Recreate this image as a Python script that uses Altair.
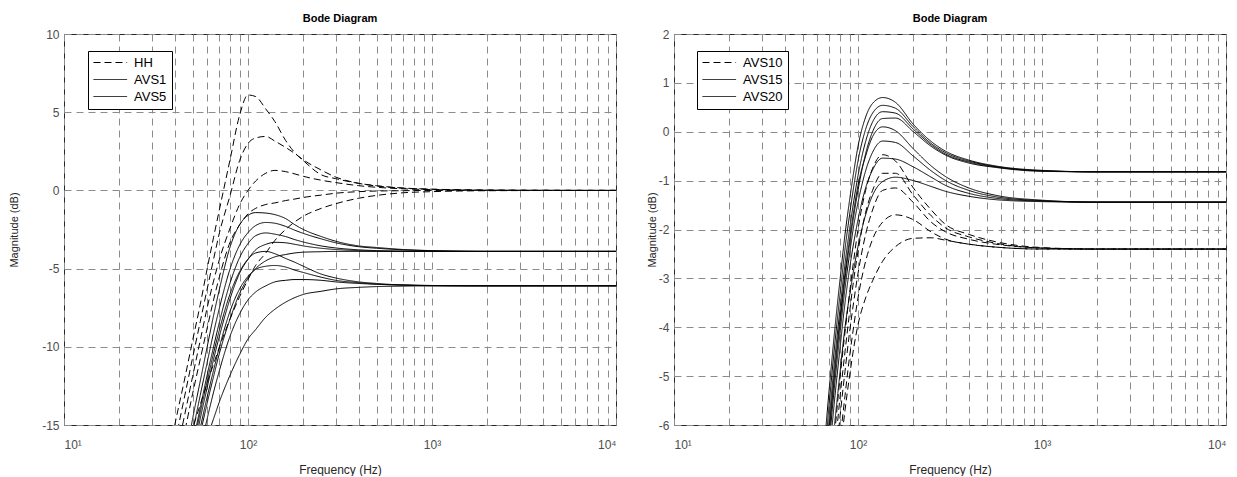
import altair as alt
import pandas as pd

# ---------------- left panel data (frequency in Hz, magnitude in dB) ----------------
F_L = [35, 40, 45, 50, 55, 60, 65, 70, 80, 90, 100, 110, 125, 140, 160, 180, 200, 250, 300, 400, 500, 700, 1000, 2000, 10000]

HH1 = [-18.5, -15.0, -12.2, -9.6, -7.3, -5.0, -3.0, -1.2, 2.0, 4.8, 6.1, 6.0, 5.2, 4.4, 3.2, 2.4, 1.9, 1.0, 0.75, 0.45, 0.3, 0.15, 0.08, 0.02, 0.0]
HH2 = [-19.5, -16.2, -13.3, -10.7, -8.4, -6.3, -4.4, -2.7, -0.3, 1.9, 3.0, 3.35, 3.45, 3.15, 2.75, 2.35, 1.95, 1.3, 0.85, 0.45, 0.28, 0.14, 0.07, 0.02, 0.0]
HH3 = [-20.5, -17.3, -14.5, -11.9, -9.6, -7.5, -5.8, -4.4, -2.4, -0.9, 0.0, 0.6, 1.1, 1.28, 1.2, 1.05, 0.9, 0.65, 0.5, 0.3, 0.2, 0.1, 0.05, 0.01, 0.0]
HH4 = [-21.5, -18.5, -15.6, -13.0, -10.8, -8.8, -7.0, -5.5, -3.3, -2.2, -1.5, -1.15, -0.9, -0.8, -0.65, -0.55, -0.45, -0.3, -0.18, -0.08, -0.04, -0.02, 0.0, 0.0, 0.0]
HH5 = [-21.0, -18.8, -16.9, -15.2, -13.7, -12.3, -11.1, -10.0, -8.2, -6.8, -5.7, -4.8, -4.0, -3.2, -2.5, -2.0, -1.65, -1.15, -0.85, -0.5, -0.32, -0.15, -0.08, -0.02, 0.0]

AVS1_A = [-24.0, -20.5, -17.5, -14.6, -12.2, -10.0, -8.0, -6.3, -3.6, -2.2, -1.6, -1.42, -1.45, -1.55, -1.8, -2.2, -2.5, -2.95, -3.25, -3.55, -3.65, -3.78, -3.85, -3.9, -3.9]
AVS1_B = [-25.0, -21.5, -18.5, -15.5, -13.1, -11.0, -9.1, -7.5, -5.0, -3.5, -2.7, -2.25, -2.05, -2.1, -2.3, -2.55, -2.75, -3.1, -3.35, -3.6, -3.7, -3.8, -3.86, -3.9, -3.9]
AVS1_C = [-26.0, -22.3, -19.3, -16.3, -13.9, -11.8, -10.0, -8.4, -5.9, -4.3, -3.4, -2.9, -2.72, -2.8, -2.95, -3.15, -3.3, -3.55, -3.68, -3.8, -3.85, -3.88, -3.9, -3.9, -3.9]
AVS1_D = [-26.5, -23.0, -20.0, -17.0, -14.6, -12.6, -10.8, -9.3, -6.9, -5.3, -4.4, -3.8, -3.45, -3.32, -3.35, -3.45, -3.55, -3.7, -3.78, -3.85, -3.88, -3.9, -3.9, -3.9, -3.9]
AVS1_E = [-27.5, -24.0, -21.0, -18.0, -15.6, -13.6, -11.9, -10.4, -8.2, -6.6, -5.6, -5.0, -4.5, -4.25, -4.1, -4.0, -3.95, -3.92, -3.9, -3.9, -3.9, -3.9, -3.9, -3.9, -3.9]

AVS5_A = [-26.0, -22.5, -19.5, -16.6, -14.2, -12.2, -10.4, -8.9, -6.6, -5.2, -4.4, -4.0, -3.9, -4.05, -4.35, -4.6, -4.85, -5.35, -5.6, -5.85, -5.95, -6.05, -6.08, -6.1, -6.1]
AVS5_B = [-27.0, -23.5, -20.5, -17.6, -15.2, -13.2, -11.5, -10.0, -7.7, -6.3, -5.5, -5.05, -4.85, -4.8, -4.9, -5.1, -5.25, -5.55, -5.75, -5.9, -6.0, -6.05, -6.08, -6.1, -6.1]
AVS5_C = [-28.5, -25.0, -22.0, -19.0, -16.6, -14.6, -12.9, -11.5, -9.3, -7.9, -7.0, -6.5, -6.1, -5.85, -5.75, -5.7, -5.7, -5.75, -5.85, -5.95, -6.0, -6.05, -6.1, -6.1, -6.1]
AVS5_D = [-24.5, -22.5, -20.5, -18.8, -17.2, -15.8, -14.6, -13.5, -11.8, -10.5, -9.5, -8.9, -8.1, -7.6, -7.15, -6.85, -6.65, -6.45, -6.3, -6.2, -6.15, -6.12, -6.1, -6.1, -6.1]

LEFT_GROUPS = ["HH", "AVS1", "AVS5"]
LEFT_CURVES = [
    ("HH1", "HH", HH1), ("HH2", "HH", HH2), ("HH3", "HH", HH3), ("HH4", "HH", HH4), ("HH5", "HH", HH5),
    ("A1a", "AVS1", AVS1_A), ("A1b", "AVS1", AVS1_B), ("A1c", "AVS1", AVS1_C), ("A1d", "AVS1", AVS1_D), ("A1e", "AVS1", AVS1_E),
    ("A5a", "AVS5", AVS5_A), ("A5b", "AVS5", AVS5_B), ("A5c", "AVS5", AVS5_C), ("A5d", "AVS5", AVS5_D),
]

# ---------------- right panel data ----------------
F_R = [60, 65, 70, 75, 80, 85, 90, 95, 100, 110, 120, 136, 160, 200, 250, 300, 400, 560, 1000, 2000, 10000]

AVS10_A = [-10.0, -8.6, -7.3, -6.1, -5.0, -4.1, -3.3, -2.6, -2.0, -1.2, -0.75, -0.47, -0.6, -1.15, -1.6, -1.9, -2.1, -2.25, -2.37, -2.4, -2.4]
AVS10_B = [-10.4, -9.0, -7.7, -6.5, -5.4, -4.5, -3.7, -3.0, -2.45, -1.65, -1.2, -0.85, -0.85, -1.3, -1.72, -1.97, -2.15, -2.28, -2.38, -2.4, -2.4]
AVS10_C = [-10.8, -9.4, -8.1, -6.9, -5.8, -4.9, -4.1, -3.45, -2.9, -2.1, -1.6, -1.2, -1.15, -1.45, -1.85, -2.05, -2.2, -2.3, -2.38, -2.4, -2.4]
AVS10_D = [-11.3, -9.9, -8.6, -7.4, -6.3, -5.4, -4.6, -3.95, -3.4, -2.65, -2.2, -1.85, -1.7, -1.8, -2.05, -2.2, -2.3, -2.36, -2.4, -2.4, -2.4]
AVS10_E = [-12.0, -10.6, -9.2, -7.8, -6.6, -5.7, -5.0, -4.4, -3.95, -3.4, -3.05, -2.65, -2.35, -2.18, -2.17, -2.22, -2.3, -2.36, -2.4, -2.4, -2.4]

AVS15_A = [-8.8, -7.4, -6.0, -4.8, -3.8, -2.9, -2.2, -1.6, -1.1, -0.5, -0.1, 0.10, 0.02, -0.35, -0.70, -0.92, -1.15, -1.30, -1.40, -1.44, -1.44]
AVS15_B = [-9.1, -7.7, -6.3, -5.1, -4.1, -3.2, -2.5, -1.9, -1.45, -0.8, -0.42, -0.19, -0.22, -0.50, -0.80, -1.00, -1.20, -1.33, -1.41, -1.44, -1.44]
AVS15_C = [-9.4, -8.0, -6.6, -5.4, -4.4, -3.5, -2.8, -2.25, -1.8, -1.15, -0.78, -0.54, -0.56, -0.72, -0.93, -1.10, -1.26, -1.36, -1.42, -1.44, -1.44]
AVS15_D = [-9.8, -8.4, -7.0, -5.9, -4.9, -4.0, -3.35, -2.8, -2.35, -1.7, -1.3, -1.02, -0.93, -1.0, -1.12, -1.22, -1.32, -1.39, -1.43, -1.44, -1.44]

AVS20_A = [-8.0, -6.6, -5.2, -4.0, -3.0, -2.1, -1.4, -0.8, -0.3, 0.3, 0.58, 0.70, 0.60, 0.15, -0.2, -0.4, -0.58, -0.70, -0.79, -0.82, -0.82]
AVS20_B = [-8.3, -6.9, -5.5, -4.3, -3.3, -2.4, -1.7, -1.1, -0.6, 0.05, 0.38, 0.54, 0.48, 0.10, -0.24, -0.43, -0.60, -0.71, -0.80, -0.82, -0.82]
AVS20_C = [-8.6, -7.2, -5.8, -4.6, -3.6, -2.7, -2.0, -1.4, -0.9, -0.2, 0.2, 0.41, 0.38, 0.05, -0.27, -0.46, -0.62, -0.72, -0.80, -0.82, -0.82]
AVS20_D = [-8.9, -7.5, -6.1, -4.9, -3.9, -3.0, -2.3, -1.7, -1.2, -0.45, 0.0, 0.27, 0.28, 0.0, -0.3, -0.48, -0.64, -0.73, -0.81, -0.82, -0.82]

RIGHT_GROUPS = ["AVS10", "AVS15", "AVS20"]
RIGHT_CURVES = [
    ("R10a", "AVS10", AVS10_A), ("R10b", "AVS10", AVS10_B), ("R10c", "AVS10", AVS10_C), ("R10d", "AVS10", AVS10_D), ("R10e", "AVS10", AVS10_E),
    ("R15a", "AVS15", AVS15_A), ("R15b", "AVS15", AVS15_B), ("R15c", "AVS15", AVS15_C), ("R15d", "AVS15", AVS15_D),
    ("R20a", "AVS20", AVS20_A), ("R20b", "AVS20", AVS20_B), ("R20c", "AVS20", AVS20_C), ("R20d", "AVS20", AVS20_D),
]

LEFT_YTICKS = [-15, -10, -5, 0, 5, 10]
RIGHT_YTICKS = [-6, -5, -4, -3, -2, -1, 0, 1, 2]
XTICKS = [m * 10 ** e for e in (1, 2, 3) for m in range(1, 10)] + [10000]

FONT = "Liberation Sans"
X_LABELS = ("datum.value == 10 ? '10\u00b9' : datum.value == 100 ? '10\u00b2' : "
            "datum.value == 1000 ? '10\u00b3' : datum.value == 10000 ? '10\u2074' : ''")
# wide stroke sample for the legend (unit box scaled by sqrt(symbolSize))
LEGEND_SYMBOL = "M-1,0H4.6"


def to_df(freqs, curves):
    rows = []
    for name, grp, vals in curves:
        for f, v in zip(freqs, vals):
            rows.append({"f": f, "db": v, "curve": name, "group": grp})
    return pd.DataFrame(rows)


def panel(df, ydom, yticks, groups, ytitle_pad, legend_x):
    x = alt.X("f:Q",
              scale=alt.Scale(type="log", domain=[10, 10000], nice=False),
              axis=alt.Axis(values=XTICKS, labelExpr=X_LABELS, title="Frequency (Hz)",
                            grid=True, ticks=False, domain=False, labelOverlap=False,
                            labelPadding=14, titlePadding=14, labelFontSize=12,
                            titleFontSize=12, labelColor="#4d4d4d"))
    y = alt.Y("db:Q",
              scale=alt.Scale(domain=ydom, nice=False, zero=False),
              axis=alt.Axis(values=yticks, labelExpr="'' + datum.value", title="Magnitude (dB)",
                            grid=True, ticks=False, domain=False, labelPadding=5,
                            titlePadding=ytitle_pad, labelFontSize=12, titleFontSize=11,
                            labelColor="#4d4d4d"))
    dash = alt.StrokeDash("group:N",
                          scale=alt.Scale(domain=groups, range=[[7, 4], [1, 0], [1, 0]]),
                          legend=alt.Legend(title=None, orient="none", legendX=legend_x, legendY=17,
                                            strokeColor="black", fillColor="white", padding=5,
                                            symbolType=LEGEND_SYMBOL, symbolSize=144,
                                            symbolStrokeWidth=1, symbolStrokeColor="black",
                                            labelFontSize=13, labelFont=FONT, labelColor="black",
                                            rowPadding=3, labelOffset=28))
    return (alt.Chart(df)
            .mark_line(clip=True, color="black", strokeWidth=1, interpolate="monotone")
            .encode(x=x, y=y, strokeDash=dash, detail="curve:N")
            .properties(width=552, height=391,
                        title=alt.TitleParams("Bode Diagram", fontSize=11, fontWeight="bold",
                                              font=FONT, color="black", offset=4, anchor="middle")))


left = panel(to_df(F_L, LEFT_CURVES), [-15, 10], LEFT_YTICKS, LEFT_GROUPS, 22, 24)
right = panel(to_df(F_R, RIGHT_CURVES), [-6, 2], RIGHT_YTICKS, RIGHT_GROUPS, 1, 23)

chart = (alt.hconcat(left, right, spacing=28)
         .resolve_scale(strokeDash="independent", x="independent", y="independent")
         .resolve_legend(strokeDash="independent")
         .properties(padding={"left": 0, "top": 4, "right": 0, "bottom": 0}, background="white")
         .configure_view(stroke="#262626", strokeWidth=1)
         .configure_axis(gridColor="#8c8c8c", gridDash=[7, 5], gridWidth=1, gridOpacity=1,
                         labelFont=FONT, titleFont=FONT, titleColor="#262626",
                         titleFontWeight="normal"))

chart.save("out.html", embed_options={"renderer": "svg", "actions": False})
